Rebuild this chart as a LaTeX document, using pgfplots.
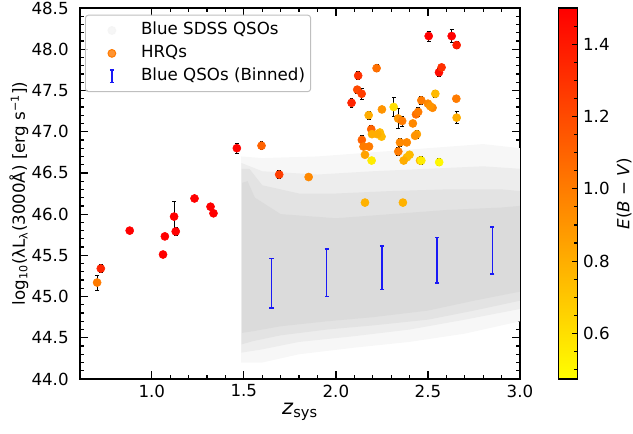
\documentclass[border=0pt,12pt]{standalone}
\usepackage{fontspec}
\setmainfont{DejaVu Sans}
\usepackage{pgfplots}
\usepackage{pgfplotstable}
\pgfplotsset{compat=1.18}

\definecolor{cloudcore}{RGB}{219,219,219}
\definecolor{cloudmid}{RGB}{227,227,227}
\definecolor{cloudlow}{RGB}{237,237,237}
\definecolor{cloudout}{RGB}{247,247,247}
\definecolor{qsoblue}{RGB}{25,25,245}
\definecolor{hrqorange}{RGB}{255,122,0}

% HRQs: redshift, log luminosity, error, E(B-V)
\pgfplotstableread{
z      L      e     E
0.703  45.17  0.09  1.00
0.723  45.34  0.05  1.35
0.880  45.80  0.00  1.50
1.061  45.51  0.00  1.50
1.071  45.73  0.00  1.50
1.121  45.97  0.18  1.50
1.130  45.79  0.05  1.50
1.232  46.19  0.03  1.50
1.319  46.09  0.00  1.50
1.335  46.01  0.00  1.50
1.462  46.80  0.06  1.48
1.596  46.83  0.05  1.10
1.692  46.48  0.05  1.25
1.852  46.45  0.00  0.95
2.504  48.16  0.06  1.50
2.629  48.16  0.08  1.50
2.656  48.05  0.04  1.38
2.221  47.77  0.04  1.05
2.121  47.68  0.05  1.30
2.116  47.51  0.04  1.20
2.140  47.46  0.07  1.25
2.085  47.35  0.05  1.35
2.560  47.72  0.05  1.45
2.574  47.78  0.04  1.30
2.464  47.38  0.05  1.00
2.540  47.46  0.04  0.75
2.654  47.40  0.03  1.00
2.656  47.17  0.07  0.80
2.500  47.34  0.03  0.95
2.525  47.29  0.03  0.95
2.512  47.31  0.00  0.90
2.435  47.21  0.03  1.05
2.447  47.24  0.05  1.00
2.314  47.30  0.12  0.60
2.250  47.27  0.03  0.90
2.178  47.20  0.05  0.80
2.338  47.16  0.12  0.90
2.360  47.13  0.06  1.00
2.418  47.10  0.03  0.95
2.192  47.03  0.05  1.10
2.196  46.97  0.03  0.80
2.239  46.99  0.03  0.75
2.248  46.94  0.03  0.75
2.225  46.97  0.00  0.80
2.440  46.97  0.05  0.85
2.430  46.95  0.00  0.90
2.141  46.90  0.05  1.10
2.150  46.82  0.03  1.00
2.180  46.82  0.03  1.00
2.348  46.87  0.05  0.95
2.385  46.87  0.00  0.95
2.339  46.76  0.05  1.00
2.158  46.72  0.03  0.85
2.194  46.65  0.00  0.55
2.400  46.72  0.03  0.75
2.386  46.69  0.00  0.75
2.368  46.65  0.03  0.80
2.457  46.65  0.03  0.75
2.464  46.65  0.05  0.55
2.561  46.63  0.04  0.50
2.158  46.14  0.03  0.78
2.364  46.14  0.04  0.78
}\hrqs

% Blue QSOs binned in redshift: mean and scatter
\pgfplotstableread{
z     L      s
1.65  45.16  0.300
1.95  45.29  0.290
2.25  45.35  0.265
2.55  45.44  0.275
2.85  45.56  0.285
}\binned

\begin{document}
\begin{tikzpicture}
\useasboundingbox (0,0) rectangle (455.76pt,311.76pt);
\begin{axis}[
  at={(57.6pt,38.88pt)}, anchor=south west,
  scale only axis, width=316.8pt, height=267.1pt,
  xmin=0.61, xmax=3.0, ymin=44.0, ymax=48.5,
  xtick={1.0,1.5,...,3.0}, ytick={44.0,44.5,...,48.5},
  minor x tick num=4, minor y tick num=4,
  tick align=inside, tick pos=both,
  major tick length=5.5pt, minor tick length=3.2pt,
  every tick/.style={black, line width=0.9pt},
  axis line style={line width=1.1pt},
  /pgf/number format/assume math mode=true,
  /pgf/number format/fixed, /pgf/number format/fixed zerofill,
  /pgf/number format/precision=1,
  yticklabel style={xshift=-4pt},
  xlabel={\fontsize{15}{18}\selectfont\textit{z}\textsubscript{sys}},
  ylabel={log\textsubscript{10}(λL\textsubscript{λ}(3000Å) [erg s\textsuperscript{−1}])},
  xlabel style={at={(axis description cs:0.5,-0.088)}, anchor=center},
  ylabel style={at={(axis description cs:-0.139,0.5)}, anchor=center},
  colormap={autumnr}{rgb255=(255,255,0) rgb255=(255,0,0)},
  point meta min=0.474, point meta max=1.5,
  colorbar,
  colorbar style={
    at={(parent axis.north east)}, anchor=north west, xshift=19.4pt,
    scale only axis, width=13.3pt, height=267.1pt,
    ytick={0.6,0.8,1.0,1.2,1.4},
    minor ytick={0.5,0.55,...,1.5},
    tick align=inside, ytick pos=right, yticklabel pos=right,
    major tick length=3.6pt, minor tick length=2.2pt,
    every tick/.style={black, line width=0.8pt},
    axis line style={line width=0.9pt},
    /pgf/number format/assume math mode=true,
    /pgf/number format/fixed, /pgf/number format/fixed zerofill,
    /pgf/number format/precision=1,
    ylabel={\textit{E}(\textit{B} − \textit{V})},
    ylabel style={at={(axis description cs:3.54,0.5)}, anchor=center},
  },
  legend cell align=left,
  legend style={at={(0.0114,0.982)}, anchor=north west,
    draw=black!25, line width=0.7pt, rounded corners=2pt, fill=white,
    fill opacity=0.8, draw opacity=1,
    text opacity=1, inner xsep=2pt, inner ysep=3pt, row sep=0.5pt,
    nodes={inner sep=2pt, text height=9pt, text depth=3pt}},
]
% legend entries
\addlegendimage{legend image code/.code={
  \path[draw=none, fill=none] (0pt,-4pt) rectangle (36pt,4pt);
  \fill[black!4] (17pt,0pt) circle (2.8pt);}}
\addlegendentry{Blue SDSS QSOs}
\addlegendimage{legend image code/.code={
  \path[draw=none, fill=none] (0pt,-4pt) rectangle (36pt,4pt);
  \fill[hrqorange] (17pt,0pt) circle (2.8pt);}}
\addlegendentry{HRQs}
\addlegendimage{legend image code/.code={
  \path[draw=none, fill=none] (0pt,-4pt) rectangle (36pt,4pt);
  \draw[qsoblue, line width=1.1pt] (17pt,-4.4pt) -- (17pt,4.4pt);
  \draw[qsoblue, line width=1.1pt] (15.6pt,-4.4pt) -- (18.4pt,-4.4pt);
  \draw[qsoblue, line width=1.1pt] (15.6pt,4.4pt) -- (18.4pt,4.4pt);}}
\addlegendentry{Blue QSOs (Binned)}

% blue SDSS QSO cloud, from the sparse outskirts inwards to the dense core
\addplot[forget plot, draw=none, fill=cloudout] coordinates {
 (1.485,44.20) (1.485,46.70) (1.60,46.68) (1.90,46.70) (2.20,46.75)
 (2.50,46.80) (2.80,46.85) (3.00,46.80) (3.00,44.70) (2.70,44.55)
 (2.40,44.45) (2.10,44.38) (1.80,44.30) (1.60,44.20) (1.485,44.20)} -- cycle;
\addplot[forget plot, draw=none, fill=cloudlow] coordinates {
 (1.487,44.32) (1.487,46.62) (1.60,46.52) (1.90,46.48) (2.20,46.52)
 (2.50,46.55) (2.80,46.58) (3.00,46.55) (3.00,44.85) (2.70,44.72)
 (2.40,44.60) (2.10,44.52) (1.80,44.45) (1.60,44.36) (1.487,44.32)} -- cycle;
\addplot[forget plot, draw=none, fill=cloudmid] coordinates {
 (1.488,44.42) (1.488,46.55) (1.53,46.55) (1.60,46.35) (1.80,46.25)
 (2.00,46.25) (2.30,46.28) (2.60,46.30) (2.90,46.30) (3.00,46.28)
 (3.00,44.95) (2.75,44.83) (2.50,44.72) (2.20,44.65) (1.95,44.60)
 (1.70,44.53) (1.55,44.46) (1.488,44.42)} -- cycle;
\addplot[forget plot, draw=none, fill=cloudcore] coordinates {
 (1.49,44.56) (1.49,46.38) (1.52,46.40) (1.56,46.20) (1.70,46.00)
 (2.00,45.95) (2.30,46.00) (2.60,46.05) (2.90,46.08) (3.00,46.10)
 (3.00,45.06) (2.75,44.95) (2.50,44.83) (2.20,44.75) (1.95,44.70)
 (1.70,44.64) (1.55,44.58) (1.49,44.56)} -- cycle;

% binned blue QSOs
\addplot[forget plot, draw=none, mark=none,
  error bars/.cd, y dir=both, y explicit,
  error bar style={qsoblue, line width=1.1pt},
  error mark options={qsoblue, line width=1.1pt, mark size=1.5pt, rotate=90}]
  table[x=z, y=L, y error=s] {\binned};

% HRQ error bars
\addplot[forget plot, draw=none, mark=none,
  error bars/.cd, y dir=both, y explicit,
  error bar style={black, line width=0.6pt},
  error mark options={black, line width=0.6pt, mark size=1.4pt, rotate=90}]
  table[x=z, y=L, y error=e] {\hrqs};

% HRQs coloured by E(B-V)
\addplot[forget plot, scatter, only marks, mark=*, mark size=2.9pt,
  scatter/use mapped color={draw=mapped color, fill=mapped color},
  point meta=explicit]
  table[x=z, y=L, meta=E] {\hrqs};
\end{axis}
\end{tikzpicture}
\end{document}
